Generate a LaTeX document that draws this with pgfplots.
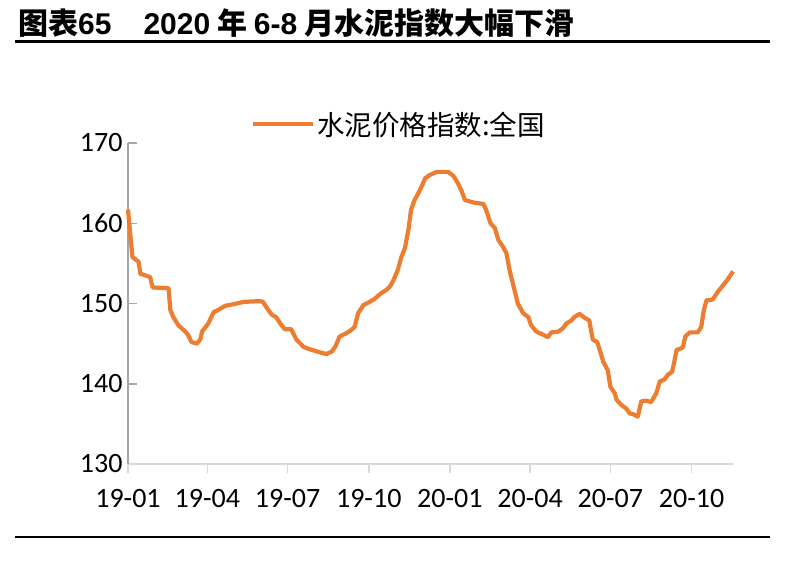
\documentclass[border=0pt]{standalone}
\usepackage{fontspec}
\setmainfont{Carlito}
\newfontfamily\cjk{Noto Sans CJK SC}
\newfontfamily\arial{Liberation Sans}
\usepackage{pgfplots}
\pgfplotsset{compat=1.18}

\definecolor{cementorange}{RGB}{237,125,49}
\definecolor{yaxisgray}{RGB}{166,166,166}
\definecolor{xaxisgray}{RGB}{217,217,217}

\begin{document}
\begin{tikzpicture}
\useasboundingbox (-128bp,-101bp) rectangle (658bp,464bp);

% title and rules
\node[anchor=west, inner sep=0pt] at (-110bp,441bp)
  {\fontsize{30bp}{32bp}\selectfont{\cjk\bfseries 图表}{\arial\bfseries 65}\hspace{32bp}{\arial\bfseries 2020} {\cjk\bfseries 年} {\arial\bfseries 6-8} {\cjk\bfseries 月水泥指数大幅下滑}};
\draw[line width=3bp] (-113bp,422.5bp) -- (642bp,422.5bp);
\draw[line width=2.5bp] (-113bp,-73bp) -- (642bp,-73bp);

\begin{axis}[
    at={(0,0)}, anchor=origin,
    scale only axis,
    width=605bp, height=321bp,
    xmin=0, xmax=686,
    ymin=130, ymax=170,
    axis x line*=bottom,
    axis y line*=left,
    x axis line style={-, draw=xaxisgray, line width=1.8bp},
    y axis line style={-, draw=yaxisgray, line width=1.5bp},
    xtick={0,90,181,273,365,456,547,639},
    xticklabels={19-01,19-04,19-07,19-10,20-01,20-04,20-07,20-10},
    ytick={130,140,150,160,170},
    tick align=inside,
    major tick length=9bp,
    xtick style={draw=xaxisgray, line width=1.5bp, yshift=-9bp},
    ytick style={draw=yaxisgray, line width=1.5bp},
    tick label style={font=\fontsize{28bp}{30bp}\selectfont},
    /pgf/number format/assume math mode=true,
    xticklabel style={yshift=-22bp},
    yticklabel style={xshift=-2bp},
    legend style={at={(0.448,1.059)}, anchor=center, draw=none, fill=none,
        font=\cjk\fontsize{27.5bp}{30bp}\selectfont, inner sep=0pt},
    legend image code/.code={\draw[#1, line width=4bp] (0bp,0bp) -- (60bp,0bp);},
    clip=false,
]
\addplot[cementorange, line width=4.2bp, line join=round] coordinates {
(0,161.7) (5,155.8) (12,155.2) (14,153.7) (25,153.3) (28,152.0) (46,151.9)
(48,149.2) (51,148.4) (57,147.3) (65,146.5) (68,146.1) (72,145.2) (78,145.0)
(82,145.5) (84,146.5) (91,147.5) (97,148.9) (104,149.3) (110,149.7) (119,149.9)
(131,150.2) (150,150.3) (153,150.2) (159,149.2) (163,148.6) (168,148.3)
(174,147.3) (178,146.8) (185,146.8) (191,145.5) (199,144.6) (206,144.3)
(218,143.9) (225,143.7) (231,144.0) (235,144.6) (240,145.9) (246,146.2)
(252,146.6) (257,147.1) (261,148.8) (267,149.8) (274,150.2) (280,150.6)
(286,151.2) (293,151.7) (297,152.1) (301,152.9) (306,154.2) (310,155.8)
(314,156.9) (318,159.2) (321,161.7) (325,162.9) (329,163.7) (333,164.6)
(337,165.6) (342,166.0) (350,166.4) (363,166.4) (369,165.9) (374,165.0)
(378,164.1) (382,162.9) (391,162.6) (403,162.4) (406,161.7) (411,160.0)
(416,159.4) (420,157.9) (425,157.1) (429,156.3) (433,154.0) (438,151.8)
(442,150.0) (448,148.8) (454,148.3) (457,147.3) (463,146.5) (471,146.1)
(476,145.8) (480,146.4) (488,146.5) (493,146.9) (497,147.5) (503,147.9)
(506,148.3) (512,148.7) (518,148.2) (523,147.9) (527,145.5) (532,145.2)
(536,143.8) (539,142.7) (544,141.7) (547,139.6) (552,138.8) (554,138.0)
(559,137.4) (565,136.9) (569,136.3) (573,136.2) (578,135.9) (582,137.8)
(588,137.9) (593,137.7) (599,138.8) (603,140.3) (608,140.5) (612,141.1)
(617,141.5) (619,142.5) (622,144.2) (629,144.5) (632,145.9) (637,146.4)
(646,146.4) (650,147.1) (653,149.2) (656,150.4) (663,150.5) (669,151.5)
(675,152.3) (680,153.0) (686,154.0)
};
\addlegendentry{水泥价格指数:全国}
\end{axis}
\end{tikzpicture}
\end{document}
